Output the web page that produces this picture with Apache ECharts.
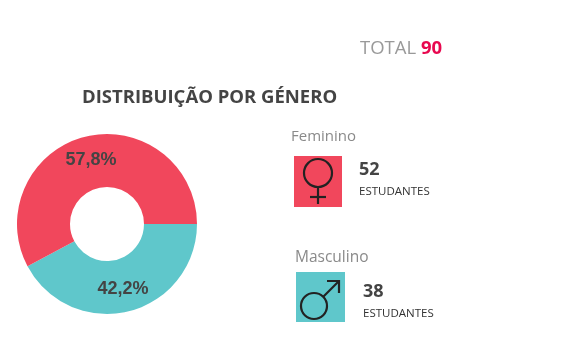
<!DOCTYPE html>
<html>
<head>
<meta charset="utf-8">
<title>Distribuição por género</title>
<script src="https://cdn.jsdelivr.net/npm/echarts@6/dist/echarts.min.js"></script>
<style>
html, body { margin: 0; padding: 0; background: #fff; }
#chart { width: 570px; height: 360px; }
</style>
</head>
<body>
<div id="chart"></div>
<script>
var categories = ['Masculino', 'Feminino'];
var counts = [38, 52];
var shares = ['42,2%', '57,8%'];
var colors = ['#5fc7cb', '#f1475c'];
var total = 90;

var font = '"Open Sans", sans-serif';
var ink = '#222';

var txt = function(x, y, text, size, color, weight) {
	return {
		type: 'text', x: x, y: y,
		style: { text: text, fontFamily: font, fontSize: size, fill: color, fontWeight: weight || 'normal', textVerticalAlign: 'middle' }
	};
};
var stroke = function(type, shape) {
	return { type: type, shape: shape, style: { fill: 'none', stroke: ink, lineWidth: 2.2 } };
};

var graphic = [
	txt(360, 49, 'TOTAL', 18.5, '#999'),
	txt(421, 49, String(total), 18.5, '#e8084f', 'bold'),
	txt(82, 98, 'DISTRIBUIÇÃO POR GÉNERO', 18.5, '#444', 'bold'),

	// feminino
	txt(291, 137, categories[1], 15, '#8a8a8a'),
	{ type: 'rect', shape: { x: 294, y: 156, width: 48, height: 51 }, style: { fill: colors[1] } },
	stroke('circle', { cx: 318, cy: 173, r: 14 }),
	stroke('line', { x1: 318, y1: 187, x2: 318, y2: 204 }),
	stroke('line', { x1: 310, y1: 197, x2: 326, y2: 197 }),
	txt(359, 170, String(counts[1]), 18, '#444', 'bold'),
	txt(359, 192, 'ESTUDANTES', 11.5, '#333'),

	// masculino
	txt(295, 258, categories[0], 15.5, '#8a8a8a'),
	{ type: 'rect', shape: { x: 296, y: 272, width: 49, height: 50 }, style: { fill: colors[0] } },
	stroke('circle', { cx: 314, cy: 306, r: 13 }),
	stroke('line', { x1: 323, y1: 297, x2: 339, y2: 281 }),
	stroke('polyline', { points: [[327, 281], [339, 281], [339, 293]] }),
	txt(363, 292, String(counts[0]), 18, '#444', 'bold'),
	txt(363, 314, 'ESTUDANTES', 11.5, '#333')
];

var pieData = [];
for (var i = 0; i < categories.length; i++) {
	pieData.push({
		name: categories[i],
		value: counts[i],
		itemStyle: { color: colors[i] },
		label: { formatter: shares[i] }
	});
}

var myChart = echarts.init(document.getElementById('chart'));
myChart.setOption({
	animation: false,
	graphic: graphic,
	series: [{
		type: 'pie',
		center: [107, 224],
		radius: [37, 90],
		startAngle: 0,
		clockwise: true,
		data: pieData,
		label: {
			position: 'inside',
			fontFamily: '"Liberation Sans", sans-serif',
			fontSize: 18,
			fontWeight: 'bold',
			color: '#444',
			offset: [0, 1]
		},
		labelLine: { show: false },
		silent: true
	}]
});
</script>
</body>
</html>
